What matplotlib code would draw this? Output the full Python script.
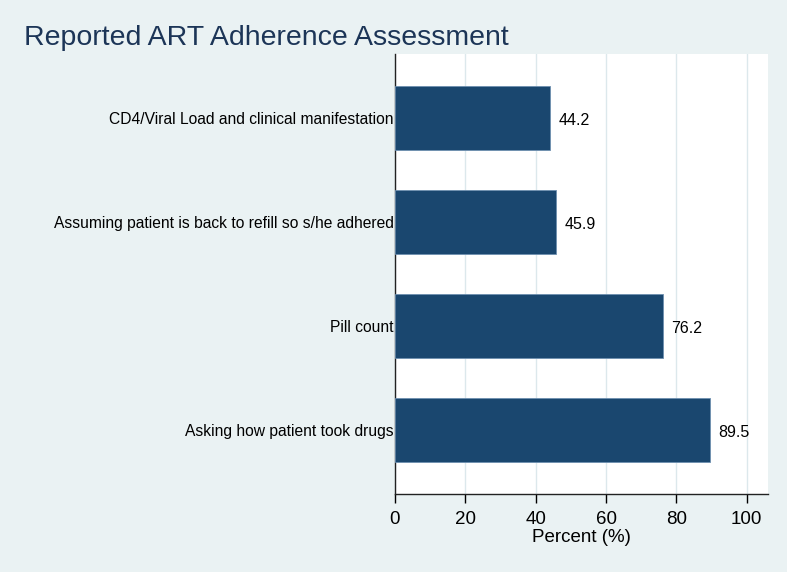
import matplotlib
matplotlib.use("Agg")
import matplotlib.pyplot as plt

categories = ["CD4/Viral Load and clinical manifestation",
              "Assuming patient is back to refill so s/he adhered",
              "Pill count",
              "Asking how patient took drugs"]
values = [44.2, 45.9, 76.2, 89.5]
xticks = [0, 20, 40, 60, 80, 100]

plt.rcParams['font.family'] = ['Liberation Sans', 'DejaVu Sans']

W, H = 787, 572
fig = plt.figure(figsize=(W/100, H/100), dpi=100)
bg = '#EAF2F3'
fig.patch.set_facecolor(bg)

ax = fig.add_axes([395/W, (H-494)/H, (767.5-395)/W, (494-54)/H])
ax.set_facecolor('white')

ypos = list(range(len(categories)))
ax.barh(ypos, values, height=0.61, color='#1A476F', edgecolor='#6E8FB0', linewidth=0.6, zorder=3)
for y, v in zip(ypos, values):
    ax.annotate(f"{v:.1f}", (v, y), xytext=(6, -1.5), textcoords='offset points',
                va='center', ha='left', fontsize=11.5, color='black')

ax.set_ylim(len(categories) - 1 + 0.615, -0.615)
ax.set_xlim(0, 105.9)
ax.set_yticks(ypos)
ax.set_yticklabels(categories, fontsize=11.25)
ax.tick_params(axis='y', length=0, pad=1)
ax.set_xticks(xticks)
ax.set_xticklabels([str(t) for t in xticks], fontsize=13.5)
ax.tick_params(axis='x', length=6.5, width=1, direction='out', pad=6)
ax.xaxis.grid(True, color='#DCE8EC', linewidth=1, zorder=0)
ax.set_axisbelow(True)
for s in ['top', 'right']:
    ax.spines[s].set_visible(False)
for s in ['left', 'bottom']:
    ax.spines[s].set_color('#222222')
    ax.spines[s].set_linewidth(1)
ax.set_xlabel("Percent (%)", fontsize=13.5, va='baseline')
ax.xaxis.set_label_coords(0.5, (494 - 541.5) / 440)

fig.text(24/W, 1 - 38/H, "Reported ART Adherence Assessment", fontsize=20.5,
         color='#1C3557', ha='left', va='center')

fig.savefig("out.png", dpi=100, facecolor=bg)
